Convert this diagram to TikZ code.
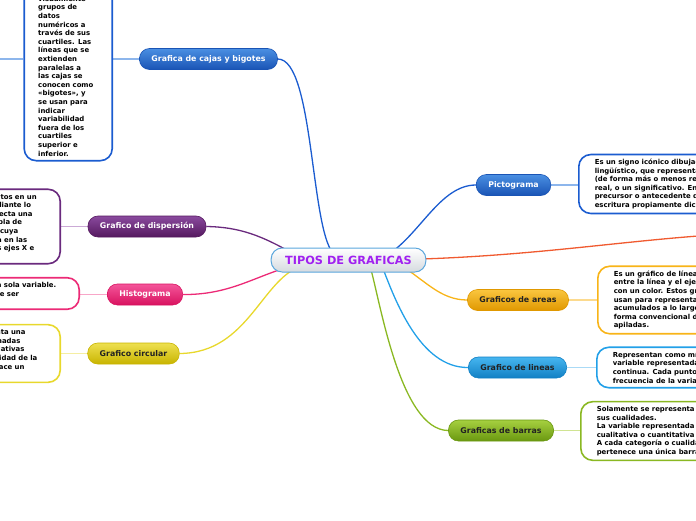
\documentclass[tikz,border=0pt]{standalone}
\usepackage{fontspec}
\setmainfont{DejaVu Sans}
\usepackage{tikz}
\usetikzlibrary{positioning, calc, backgrounds}
\definecolor{topicline}{HTML}{5AA6DC}
\definecolor{topicgray}{HTML}{D5DADF}
\definecolor{topictext}{HTML}{A020F0}
\definecolor{bluetop}{HTML}{4A8FE2}
\definecolor{bluebot}{HTML}{1A54B5}
\definecolor{blueline}{HTML}{1B5CD0}
\definecolor{bluelight}{HTML}{8DB6EC}
\definecolor{purpletop}{HTML}{8A4A9E}
\definecolor{purplebot}{HTML}{55195F}
\definecolor{purpleline}{HTML}{6A2A7E}
\definecolor{purplelight}{HTML}{CBAAD6}
\definecolor{pinktop}{HTML}{F4559A}
\definecolor{pinkbot}{HTML}{D8125F}
\definecolor{pinkline}{HTML}{EC2A76}
\definecolor{pinklight}{HTML}{F8A6C8}
\definecolor{yellowtop}{HTML}{EEE050}
\definecolor{yellowbot}{HTML}{C8B400}
\definecolor{yellowline}{HTML}{E8D82C}
\definecolor{yellowlight}{HTML}{F5EEA2}
\definecolor{orangetop}{HTML}{FAC640}
\definecolor{orangebot}{HTML}{E09800}
\definecolor{orangeline}{HTML}{F8B418}
\definecolor{orangelight}{HTML}{FCDA8E}
\definecolor{skytop}{HTML}{46B6F0}
\definecolor{skybot}{HTML}{1280C4}
\definecolor{skyline}{HTML}{22A0E8}
\definecolor{skylight}{HTML}{AADAF6}
\definecolor{greentop}{HTML}{A6D040}
\definecolor{greenbot}{HTML}{6A9810}
\definecolor{greenline}{HTML}{8AB822}
\definecolor{greenlight}{HTML}{D0E492}
\definecolor{redline}{HTML}{F05A30}
\definecolor{darktext}{HTML}{222222}
\tikzset{
    topic/.style={
        rounded corners=11pt,
        draw=topicline,
        line width=1pt,
        top color=white,
        bottom color=topicgray,
        inner xsep=14pt,
        inner ysep=0pt,
        minimum height=24pt,
        text=topictext,
        font=\fontsize{11.3}{13}\selectfont\bfseries
    },
    branch/.style={
        rounded corners=10pt,
        line width=0.6pt,
        inner xsep=12pt,
        inner ysep=0pt,
        minimum height=21pt,
        font=\fontsize{7.85}{9}\selectfont\bfseries
    },
    bluebranch/.style={branch, top color=bluetop, bottom color=bluebot, draw=bluebot, text=white},
    purplebranch/.style={branch, top color=purpletop, bottom color=purplebot, draw=purplebot, text=white},
    pinkbranch/.style={branch, top color=pinktop, bottom color=pinkbot, draw=pinkbot, text=white},
    yellowbranch/.style={branch, top color=yellowtop, bottom color=yellowbot, draw=yellowbot, text=darktext},
    orangebranch/.style={branch, top color=orangetop, bottom color=orangebot, draw=orangebot, text=darktext},
    skybranch/.style={branch, top color=skytop, bottom color=skybot, draw=skybot, text=darktext},
    greenbranch/.style={branch, top color=greentop, bottom color=greenbot, draw=greenbot, text=darktext},
    note/.style={
        rounded corners=12pt,
        fill=white,
        line width=1.6pt,
        align=left,
        inner xsep=16pt,
        inner ysep=4.5pt,
        text=black,
        font=\fontsize{6.9}{8.6}\selectfont\bfseries
    },
    link/.style={
        line width=1.4pt
    },
    curve/.style={
        line width=1.3pt
    }
}

\begin{document}
\begin{tikzpicture}[x=1pt, y=-1pt]
\useasboundingbox (0,0) rectangle (696,520);
\clip (0,0) rectangle (696,520);

%---------------- Centro ----------------

\node[topic] (tipos) at (348.5,260) {TIPOS DE GRAFICAS};

%---------------- Izquierda ----------------

\node[bluebranch] (cajas) at (208.5,59) {Grafica de cajas y bigotes};
\node[note, draw=blueline, text width=60pt, inner xsep=14pt, anchor=south east] (cajasnota) at (113,161.5)
    {Es un método\\utilizado\\para\\representar\\visualmente\\grupos de\\datos\\numéricos a\\través de sus\\cuartiles. Las\\líneas que se\\extienden\\paralelas a\\las cajas se\\conocen como\\«bigotes», y\\se usan para\\indicar\\variabilidad\\fuera de los\\cuartiles\\superior e\\inferior.};
\coordinate (cajasfuera) at (-5,59);

\node[purplebranch] (dispersion) at (147,226.5) {Grafico de dispersión};
\node[note, draw=purpleline, text width=101pt, anchor=east] (dispersionnota) at (61,226.5)
    {Muestra los datos en un\\diagrama, mediante lo\\que se ve si afecta una\\otra en una tabla de\\doble entrada cuya\\posición queda en las\\medidas de los ejes X e\\Y.};

\node[pinkbranch] (histograma) at (145,294.5) {Histograma};
\node[note, draw=pinkline, text width=123pt, anchor=east] (histogramanota) at (80,293.5)
    {Representa una sola variable.\\La variable debe ser\\continua.};

\node[yellowbranch] (circular) at (133.5,353.5) {Grafico circular};
\node[note, draw=yellowline, text width=125pt, anchor=east] (circularnota) at (61,353.5)
    {Gráfico que representa una\\y proporciones ordenadas\\o bien cantidades relativas\\en relación a la totalidad de la\\muestra, donde se hace un\\círculo.};

%---------------- Derecha ----------------

\node[bluebranch] (picto) at (513.5,185) {Pictograma};
\node[note, draw=blueline, anchor=west] (pictonota) at (578,184)
    {Es un signo icónico dibujado y no\\lingüístico, que representa figurativamente,\\(de forma más o menos realista) un objeto\\real, o un significativo. En escritura es un\\precursor o antecedente de la\\escritura propiamente dicha.};

\node[orangebranch] (areas) at (518,300) {Graficos de areas};
\node[note, draw=orangeline, anchor=west] (areasnota) at (597,300)
    {Es un gráfico de líneas en el que el área\\entre la línea y el eje se rellena\\con un color. Estos gráficos se\\usan para representar totales\\acumulados a lo largo del tiempo y es la\\forma convencional de mostrar líneas\\apiladas.};

\node[skybranch] (lineas) at (517.5,367.5) {Grafico de lineas};
\node[note, draw=skyline, anchor=west] (lineasnota) at (596,367.5)
    {Representan como mínimo una\\variable representada de forma\\continua. Cada punto indica la\\frecuencia de la variable.};

\node[greenbranch] (barras) at (501,430.5) {Graficas de barras};
\node[note, draw=greenline, anchor=west] (barrasnota) at (580,431)
    {Solamente se representa una variable y\\sus cualidades.\\La variable representada puede ser\\cualitativa o cuantitativa discreta.\\A cada categoría o cualidad le\\pertenece una única barra.};

\coordinate (otrafuera) at (705,235.5);

%---------------- Conectores ----------------

\begin{scope}[on background layer]
\draw[curve, blueline] (cajas.east) .. controls (315,59) and (310,240) .. (336,256);
\draw[curve, purpleline] (dispersion.east) .. controls (240,227) and (262,236) .. (292,253);
\draw[curve, pinkline] (histograma.east) .. controls (230,295) and (255,276) .. (292,266);
\draw[curve, yellowline] (circular.east) .. controls (250,353) and (262,275) .. (305,265);
\draw[curve, blueline] (picto.west) .. controls (440,185) and (420,235) .. (386,256);
\draw[curve, orangeline] (areas.west) .. controls (440,300) and (425,280) .. (400,265);
\draw[curve, skyline] (lineas.west) .. controls (420,368) and (395,300) .. (382,266);
\draw[curve, greenline] (barras.west) .. controls (400,430) and (380,300) .. (370,266);
\draw[curve, redline] (tipos.center) .. controls (500,261) and (600,243) .. (otrafuera);

\draw[link, bluelight] (cajas.west) -- (cajas.west -| cajasnota.east);
\draw[link, bluelight] (cajas.west -| cajasnota.west) -- (cajasfuera);
\draw[link, purplelight] (dispersion.west) -- (dispersionnota.east);
\draw[link, pinklight] (histograma.west) -- (histograma.west -| histogramanota.east);
\draw[link, yellowlight] (circular.west) -- (circularnota.east);
\draw[link, bluelight] (picto.east) -- (picto.east -| pictonota.west);
\draw[link, orangelight] (areas.east) -- (areasnota.west);
\draw[link, skylight] (lineas.east) -- (lineasnota.west);
\draw[link, greenlight] (barras.east) -- (barras.east -| barrasnota.west);
\end{scope}

\end{tikzpicture}
\end{document}
